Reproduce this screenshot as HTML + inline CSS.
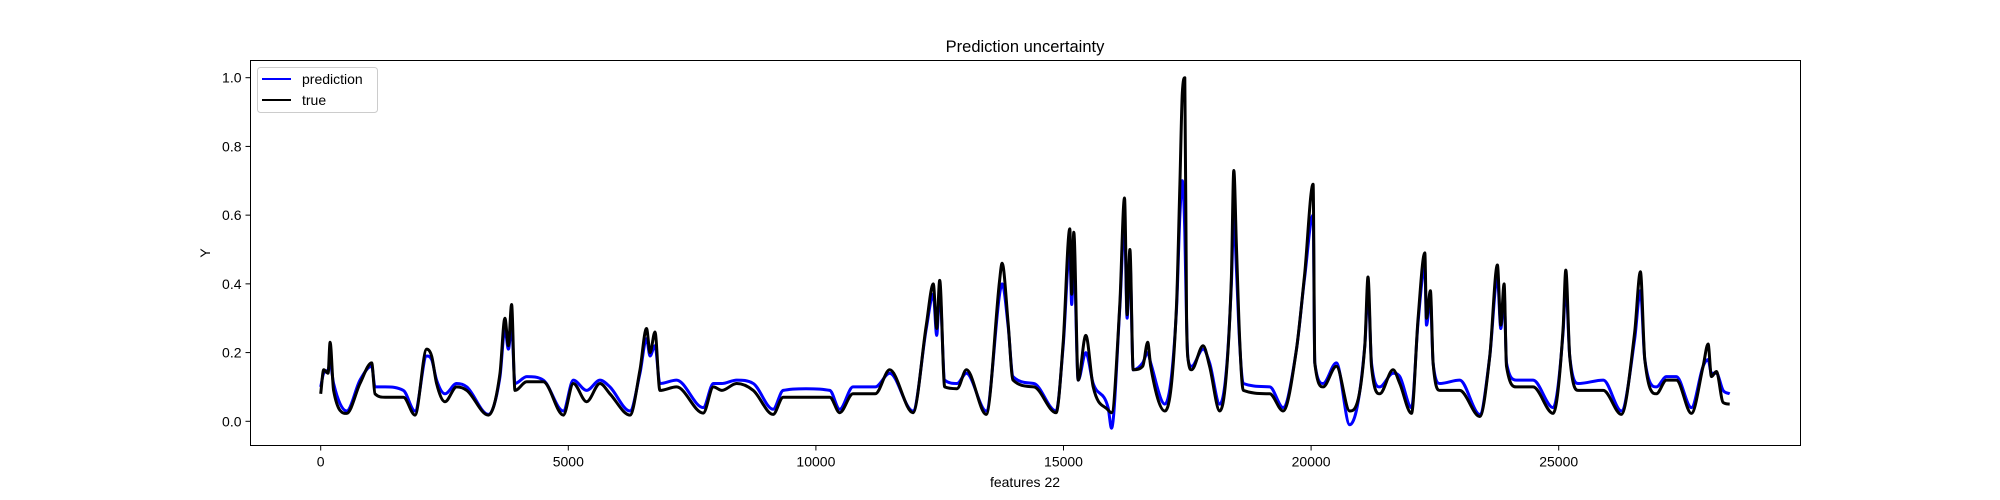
<!DOCTYPE html>
<html><head><meta charset="utf-8"><style>
html,body{margin:0;padding:0;background:#fff;}
svg{display:block;font-family:"Liberation Sans","DejaVu Sans",sans-serif;}
</style></head><body>
<svg id="chart" width="2000" height="500" viewBox="0 0 2000 500" xmlns="http://www.w3.org/2000/svg">
<rect width="2000" height="500" fill="#fff"/>
<text x="1025" y="52" text-anchor="middle" font-size="16.5" fill="#000">Prediction uncertainty</text>
<g id="plot"></g>
<g id="axes"></g>
<text x="1025" y="487" text-anchor="middle" font-size="14" fill="#000">features 22</text>
<text x="0" y="0" transform="translate(210,253) rotate(-90)" text-anchor="middle" font-size="14" fill="#000">Y</text>
<g>
<rect x="257.5" y="67.5" width="120" height="45" rx="3" fill="#fff" fill-opacity="0.8" stroke="#ccc"/>
<line x1="262" y1="79" x2="291" y2="79" stroke="#0000ff" stroke-width="2"/>
<text x="302" y="84" font-size="14">prediction</text>
<line x1="262" y1="100" x2="291" y2="100" stroke="#000" stroke-width="2"/>
<text x="302" y="105" font-size="14">true</text>
</g>
</svg>
<script>
const xs = [0,60,150,190,260,525,794,1030,1096,1300,1670,1904,2140,2240,2340,2510,2745,2950,3385,3620,3720,3790,3855,3923,4160,4495,4900,5100,5370,5640,5840,6245,6447,6580,6650,6750,6850,7185,7725,7930,8100,8400,8735,9135,9340,9800,10280,10480,10750,11200,11490,11960,12230,12370,12440,12500,12600,12850,13040,13440,13710,13760,13880,13980,14400,14850,14993,15128,15165,15208,15296,15450,15600,15900,15970,16137,16232,16285,16340,16407,16600,16700,16760,17046,17280,17350,17400,17450,17483,17517,17585,17820,17950,18156,18290,18390,18440,18490,18560,18630,19165,19435,19705,19870,20040,20075,20243,20510,20780,21085,21150,21220,21386,21655,21791,22027,22161,22296,22330,22410,22464,22600,23000,23406,23608,23763,23830,23898,23945,24146,24483,24887,25089,25143,25223,25400,25900,26266,26535,26650,26738,26973,27175,27377,27680,27916,28016,28083,28185,28320,28454];
const trueVals = [.08,.15,.14,.23,.09,.023,.11,.17,.08,.07,.07,.018,.21,.19,.11,.057,.10,.09,.018,.14,.30,.22,.34,.09,.115,.115,.018,.11,.057,.11,.08,.018,.15,.27,.20,.26,.09,.10,.024,.10,.09,.11,.09,.02,.07,.07,.07,.025,.08,.08,.15,.025,.28,.40,.27,.41,.10,.095,.15,.02,.41,.46,.29,.12,.10,.025,.23,.56,.37,.55,.12,.25,.10,.033,.025,.34,.65,.31,.50,.15,.16,.23,.16,.03,.33,.69,.955,1.0,.32,.18,.15,.22,.16,.03,.14,.42,.73,.52,.23,.09,.08,.03,.21,.43,.69,.17,.10,.16,.03,.22,.42,.16,.08,.15,.11,.023,.30,.49,.30,.38,.17,.09,.09,.014,.19,.455,.28,.40,.16,.10,.10,.023,.27,.44,.19,.09,.09,.02,.26,.435,.18,.08,.12,.12,.023,.16,.225,.13,.145,.055,.05];
const predVals = [.10,.14,.15,.17,.11,.03,.12,.16,.10,.10,.09,.03,.19,.18,.12,.08,.11,.10,.02,.13,.27,.21,.28,.11,.13,.12,.03,.12,.09,.12,.10,.03,.14,.24,.19,.22,.11,.12,.04,.11,.11,.12,.11,.035,.09,.095,.09,.035,.10,.10,.14,.03,.27,.37,.25,.38,.12,.11,.14,.03,.37,.40,.28,.13,.11,.03,.22,.50,.34,.48,.12,.20,.11,.04,-.02,.33,.58,.30,.47,.15,.17,.20,.17,.05,.32,.60,.70,.55,.30,.18,.16,.21,.17,.05,.15,.40,.60,.45,.22,.11,.10,.04,.21,.42,.60,.17,.11,.17,-.01,.22,.38,.17,.10,.14,.13,.04,.29,.45,.28,.36,.17,.11,.12,.02,.19,.42,.27,.37,.17,.12,.12,.04,.26,.40,.19,.11,.12,.03,.24,.38,.18,.10,.13,.13,.04,.16,.18,.14,.14,.09,.08];
const yTicks = [0.0,0.2,0.4,0.6,0.8,1.0];
const yTickLabels = ["0.0","0.2","0.4","0.6","0.8","1.0"];
const xTicks = [0,5000,10000,15000,20000,25000];
const xTickLabels = ["0","5000","10000","15000","20000","25000"];

const L=250.5,R=1800.5,T=60.5,B=445.5;
function xScale(v){return 320.7+v*(247.6/5000);}
function yScale(v){return 421.3-v*343.6;}
const NS="http://www.w3.org/2000/svg";
const plot=document.getElementById('plot');
const axes=document.getElementById('axes');
function mk(tag,attrs,parent){const e=document.createElementNS(NS,tag);for(const k in attrs)e.setAttribute(k,attrs[k]);parent.appendChild(e);return e;}
// monotone cubic (Fritsch-Carlson) path
function pathFor(vals){
  const px=xs.map(xScale), py=vals.map(yScale), n=px.length;
  const d=[],m=new Array(n);
  for(let i=0;i<n-1;i++) d.push((py[i+1]-py[i])/(px[i+1]-px[i]));
  m[0]=d[0]; m[n-1]=d[n-2];
  for(let i=1;i<n-1;i++){ m[i]=(d[i-1]*d[i]<=0)?0:(d[i-1]+d[i])/2; }
  for(let i=0;i<n-1;i++){
    if(d[i]===0){m[i]=0;m[i+1]=0;continue;}
    const a=m[i]/d[i],b=m[i+1]/d[i],s=a*a+b*b;
    if(s>9){const t=3/Math.sqrt(s);m[i]=t*a*d[i];m[i+1]=t*b*d[i];}
  }
  let p='M'+px[0].toFixed(1)+','+py[0].toFixed(1);
  for(let i=0;i<n-1;i++){
    const h=(px[i+1]-px[i])/3;
    p+=' C'+(px[i]+h).toFixed(1)+','+(py[i]+m[i]*h).toFixed(1)+' '+(px[i+1]-h).toFixed(1)+','+(py[i+1]-m[i+1]*h).toFixed(1)+' '+px[i+1].toFixed(1)+','+py[i+1].toFixed(1);
  }
  return p;
}
const pl=mk('path',{d:pathFor(predVals),fill:'none',stroke:'#0000ff','stroke-width':3,'stroke-linejoin':'round'},plot);


const tl=mk('path',{d:pathFor(trueVals),fill:'none',stroke:'#000','stroke-width':3,'stroke-linejoin':'round'},plot);


const frame=mk('rect',{x:L,y:T,width:R-L,height:B-T,fill:'none',stroke:'#000','stroke-width':1},axes);


yTicks.forEach((v,i)=>{
  const y=yScale(v);
  const t=mk('line',{x1:L-5,x2:L,y1:y,y2:y,stroke:'#000'},axes);
  
  
  const lb=mk('text',{x:L-9,y:y+5,'text-anchor':'end','font-size':14},axes);
  lb.textContent=yTickLabels[i];
  
  
});
xTicks.forEach((v,i)=>{
  const x=xScale(v);
  const t=mk('line',{x1:x,x2:x,y1:B,y2:B+5,stroke:'#000'},axes);
  
  
  const lb=mk('text',{x:x,y:B+21,'text-anchor':'middle','font-size':14},axes);
  lb.textContent=xTickLabels[i];
  
  
});
</script>
</body></html>
